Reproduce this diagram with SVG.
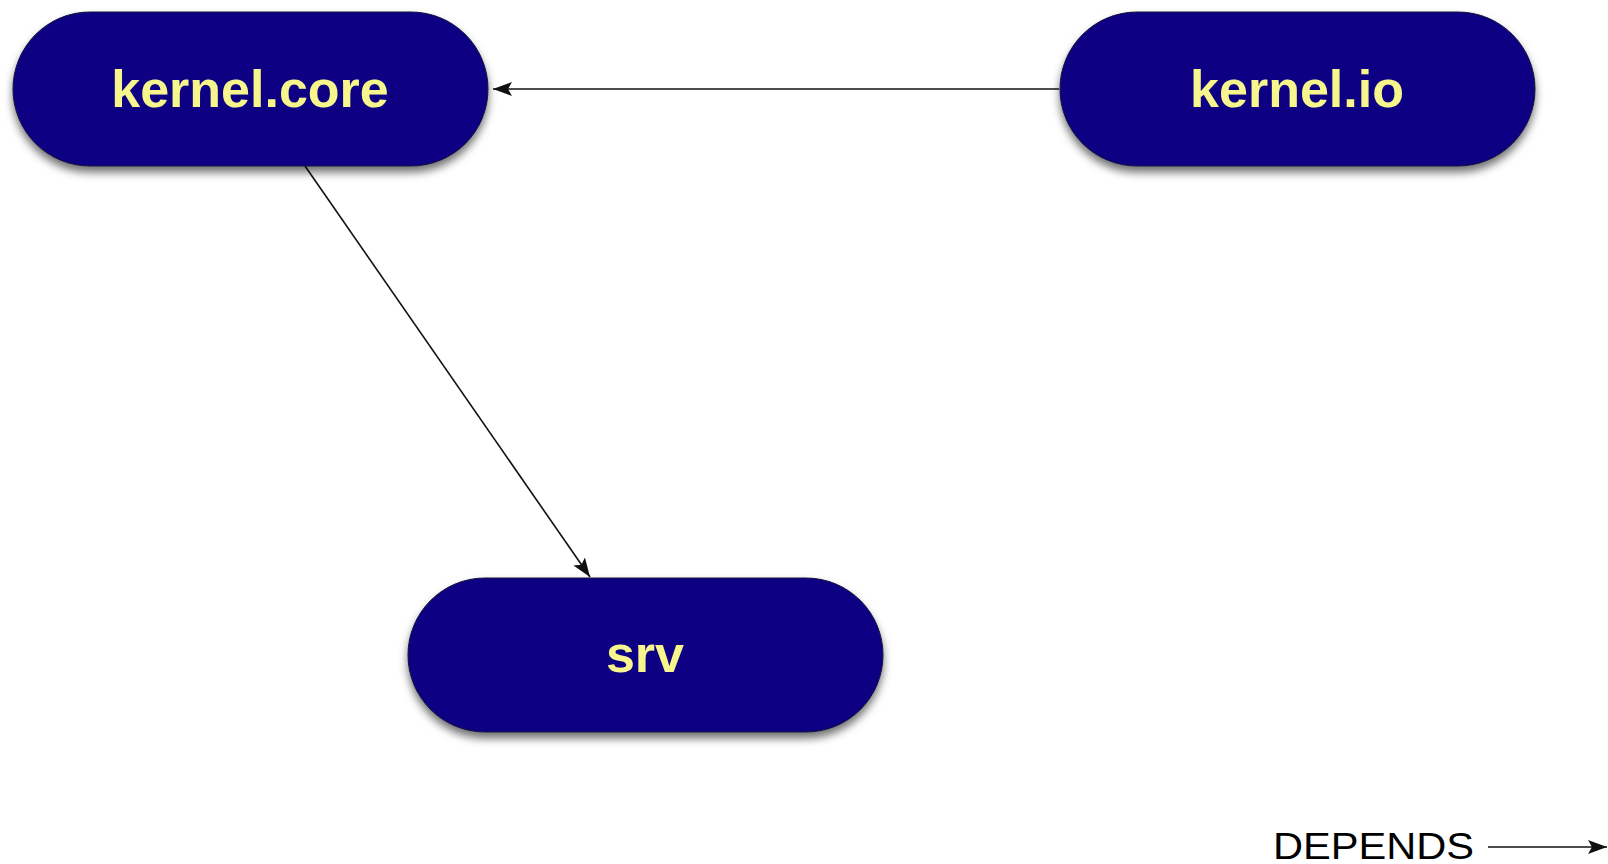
<svg xmlns="http://www.w3.org/2000/svg" width="1608" height="864" viewBox="0 0 1608 864">
<style>
.pill{fill:#0b0082;stroke:#14143a;stroke-width:1;filter:url(#sh)}
.lbl{font-family:"Liberation Sans",Arial,sans-serif;font-weight:bold;font-size:52px;fill:#f6f68c;text-anchor:middle}
.edge{stroke:#111;stroke-width:1.6;fill:none}
.legend{font-family:"Liberation Sans",Arial,sans-serif;font-size:36px;fill:#000}
</style>
<defs>
<filter id="sh" x="-10%" y="-20%" width="120%" height="150%">
<feDropShadow dx="0" dy="6" stdDeviation="4" flood-color="#000" flood-opacity="0.55"/>
</filter>
<marker id="ah" viewBox="0 0 19 14" refX="19" refY="7" markerWidth="19" markerHeight="14" markerUnits="userSpaceOnUse" orient="auto">
<path d="M0,0 L19,7 L0,14 L4,7 Z" fill="#111"/>
</marker>
</defs>
<rect width="1608" height="864" fill="#fff"/>
<g id="connectors">
<line class="edge" x1="1059" y1="89" x2="493" y2="89" marker-end="url(#ah)"/>
<line class="edge" x1="305" y1="166" x2="590" y2="577" marker-end="url(#ah)"/>
</g>
<g id="kernel.core">
<rect class="pill" x="13" y="12" width="475" height="154" rx="77" ry="77"/>
<text class="lbl" x="250" y="107">kernel.core</text>
</g>
<g id="kernel.io">
<rect class="pill" x="1060" y="12" width="475" height="154" rx="77" ry="77"/>
<text class="lbl" x="1297" y="107">kernel.io</text>
</g>
<g id="srv">
<rect class="pill" x="408" y="578" width="475" height="154" rx="77" ry="77"/>
<text class="lbl" x="645" y="672">srv</text>
</g>
<g id="legend">
<text class="legend" x="1273" y="859" textLength="201" lengthAdjust="spacingAndGlyphs">DEPENDS</text>
<line class="edge" x1="1488" y1="847" x2="1607" y2="847" marker-end="url(#ah)"/>
</g>
</svg>
